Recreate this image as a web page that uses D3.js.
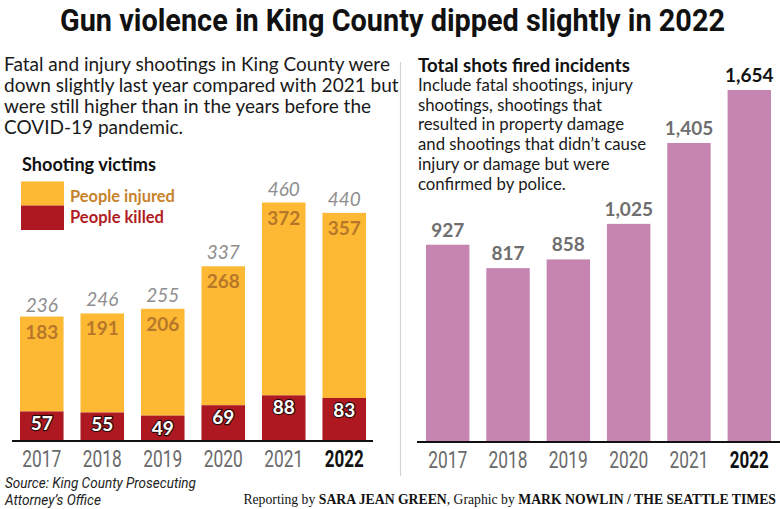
<!DOCTYPE html>
<html>
<head>
<meta charset="utf-8">
<script src="https://cdn.jsdelivr.net/npm/d3@7"></script>
<style>
  html, body { margin: 0; padding: 0; background: #fff; }
  svg { display: block; }
  .cond { font-family: "Roboto", "DejaVu Sans", sans-serif; }
  .hum { font-family: "Lato", "Noto Sans", sans-serif; }
</style>
</head>
<body>
<svg id="chart" width="780" height="509"></svg>
<script>
// ---- data ----
const years = ["2017", "2018", "2019", "2020", "2021", "2022"];
const injured = [183, 191, 206, 268, 372, 357];
const killed = [57, 55, 49, 69, 88, 83];
const totalVictims = [236, 246, 255, 337, 460, 440];
const shotsFired = [927, 817, 858, 1025, 1405, 1654];

const titleText = "Gun violence in King County dipped slightly in 2022";
const introLines = [
  "Fatal and injury shootings in King County were",
  "down slightly last year compared with 2021 but",
  "were still higher than in the years before the",
  "COVID-19 pandemic."
];
const rightTitle = "Total shots fired incidents";
const rightLines = [
  "Include fatal shootings, injury",
  "shootings, shootings that",
  "resulted in property damage",
  "and shootings that didn\u2019t cause",
  "injury or damage but were",
  "confirmed by police."
];

const C = {
  yellow: "#fdb933",
  red: "#ae1820",
  pink: "#c685b1",
  injuredText: "#b7772a",
  legendInjured: "#c7832a",
  legendKilled: "#b11c22",
  total: "#8e8e8e",
  year: "#6a6a6a",
  shotLabel: "#6e6e6e"
};

const svg = d3.select("#chart");

function fitWidth(sel, w) {
  const node = sel.node();
  const cur = node.getComputedTextLength();
  const fs = parseFloat(sel.attr("font-size"));
  if (cur > 0) sel.attr("font-size", (fs * w / cur).toFixed(2));
  return sel;
}
function squeeze(sel, w) {
  return sel.attr("textLength", w).attr("lengthAdjust", "spacingAndGlyphs");
}
// horizontally condense a text via transform, anchored at (x,y)
function condense(sel, x, y, w) {
  const cur = sel.node().getComputedTextLength();
  const k = cur > 0 ? w / cur : 1;
  sel.attr("x", 0).attr("y", 0)
     .attr("transform", `translate(${x},${y}) scale(${k.toFixed(4)},1)`);
  return sel;
}

// title
squeeze(svg.append("text")
  .attr("class", "cond")
  .attr("x", 60).attr("y", 31)
  .attr("font-size", 31)
  .attr("font-weight", "bold")
  .attr("fill", "#111")
  .text(titleText), 665);

// intro paragraph
let ifs = null;
introLines.forEach((t, i) => {
  const s = svg.append("text")
    .attr("class", "hum")
    .attr("x", 4).attr("y", 71 + i * 21)
    .attr("font-size", 19)
    .attr("fill", "#1a1a1a")
    .text(t);
  if (i === 0) { fitWidth(s, 386); ifs = s.attr("font-size"); }
  else s.attr("font-size", ifs);
});

// divider
svg.append("line")
  .attr("x1", 400.5).attr("x2", 400.5)
  .attr("y1", 62).attr("y2", 476)
  .attr("stroke", "#d4d4d4").attr("stroke-width", 1.2);

// ---------- left chart ----------
const xL = d3.scaleBand().domain(years).range([20, 366]).paddingInner(0.28).paddingOuter(0);
const yL = d3.scaleLinear().domain([0, 460]).range([441, 202.5]);

const gL = svg.append("g");
gL.selectAll("rect.inj").data(years).join("rect")
  .attr("x", d => xL(d)).attr("width", xL.bandwidth())
  .attr("y", (d, i) => yL(killed[i] + injured[i]))
  .attr("height", (d, i) => yL(killed[i]) - yL(killed[i] + injured[i]))
  .attr("fill", C.yellow);
gL.selectAll("rect.kil").data(years).join("rect")
  .attr("x", d => xL(d)).attr("width", xL.bandwidth())
  .attr("y", (d, i) => yL(killed[i]))
  .attr("height", (d, i) => yL(0) - yL(killed[i]))
  .attr("fill", C.red);

gL.selectAll("text.tot").data(years).join("text")
  .attr("class", "hum")
  .attr("x", d => xL(d) + xL.bandwidth() / 2)
  .attr("y", (d, i) => yL(totalVictims[i]) - 7)
  .attr("text-anchor", "middle")
  .attr("font-size", 19).attr("font-style", "italic")
  .attr("fill", C.total)
  .text((d, i) => totalVictims[i]);
gL.selectAll("text.inj").data(years).join("text")
  .attr("class", "hum")
  .attr("x", d => xL(d) + xL.bandwidth() / 2)
  .attr("y", (d, i) => yL(killed[i] + injured[i]) + 22)
  .attr("text-anchor", "middle")
  .attr("font-size", 19).attr("font-weight", "bold")
  .attr("fill", C.injuredText)
  .text((d, i) => injured[i]);
gL.selectAll("text.kil").data(years).join("text")
  .attr("class", "hum")
  .attr("x", d => xL(d) + xL.bandwidth() / 2)
  .attr("y", (d, i) => yL(killed[i]) + 19)
  .attr("text-anchor", "middle")
  .attr("font-size", 19).attr("font-weight", "bold")
  .attr("fill", "#fff")
  .attr("stroke", "#2a0a0a").attr("stroke-width", 2.4)
  .attr("paint-order", "stroke")
  .attr("stroke-linejoin", "round")
  .text((d, i) => killed[i]);

function styleYears(ax, scale) {
  ax.select(".domain").remove();
  ax.selectAll(".tick text")
    .attr("class", "cond")
    .attr("dy", 0)
    .attr("font-size", 23)
    .attr("fill", d => d === "2022" ? "#111" : C.year)
    .attr("font-weight", d => d === "2022" ? "bold" : "normal")
    .each(function () { condense(d3.select(this), 0, 26, 39); });
}

const axL = gL.append("g").attr("transform", "translate(0,441)")
  .call(d3.axisBottom(xL).tickSize(0).tickPadding(0));
styleYears(axL);
gL.append("line").attr("x1", 12).attr("x2", 373).attr("y1", 441).attr("y2", 441)
  .attr("stroke", "#111").attr("stroke-width", 2);

// legend
fitWidth(svg.append("text").attr("class", "hum")
  .attr("x", 22).attr("y", 171)
  .attr("font-size", 18).attr("font-weight", "bold").attr("fill", "#111")
  .text("Shooting victims"), 134);
svg.append("rect").attr("x", 21).attr("y", 181.5).attr("width", 43).attr("height", 24).attr("fill", C.yellow);
svg.append("rect").attr("x", 21).attr("y", 205.5).attr("width", 43).attr("height", 24.5).attr("fill", C.red);
fitWidth(svg.append("text").attr("class", "hum")
  .attr("x", 70).attr("y", 201.5)
  .attr("font-size", 17).attr("font-weight", "bold").attr("fill", C.legendInjured)
  .text("People injured"), 105);
fitWidth(svg.append("text").attr("class", "hum")
  .attr("x", 70).attr("y", 222.5)
  .attr("font-size", 17).attr("font-weight", "bold").attr("fill", C.legendKilled)
  .text("People killed"), 94);

// ---------- right chart ----------
const xR = d3.scaleBand().domain(years).range([426, 771]).paddingInner(0.28).paddingOuter(0);
const yR = d3.scaleLinear().domain([0, 1654]).range([442, 90]);
const gR = svg.append("g");

gR.selectAll("rect").data(years).join("rect")
  .attr("x", d => xR(d)).attr("width", xR.bandwidth())
  .attr("y", (d, i) => yR(shotsFired[i]))
  .attr("height", (d, i) => yR(0) - yR(shotsFired[i]))
  .attr("fill", C.pink);

gR.selectAll("text.val").data(years).join("text")
  .attr("class", "hum")
  .attr("x", d => xR(d) + xR.bandwidth() / 2)
  .attr("y", (d, i) => yR(shotsFired[i]) - 8)
  .attr("text-anchor", "middle")
  .attr("font-size", 19).attr("font-weight", "bold")
  .attr("fill", d => d === "2022" ? "#111" : C.shotLabel)
  .text((d, i) => d3.format(",")(shotsFired[i]));

const axR = gR.append("g").attr("transform", "translate(0,442)")
  .call(d3.axisBottom(xR).tickSize(0).tickPadding(0));
styleYears(axR);
gR.append("line").attr("x1", 417).attr("x2", 780).attr("y1", 442).attr("y2", 442)
  .attr("stroke", "#111").attr("stroke-width", 2);

fitWidth(svg.append("text").attr("class", "hum")
  .attr("x", 418).attr("y", 72)
  .attr("font-size", 18).attr("font-weight", "bold").attr("fill", "#111")
  .text(rightTitle), 212);
let rfs = null;
rightLines.forEach((t, i) => {
  const s = svg.append("text").attr("class", "hum")
    .attr("x", 418).attr("y", 91 + i * 19.7)
    .attr("font-size", 16).attr("fill", "#1a1a1a").text(t);
  if (i === 0) { fitWidth(s, 215); rfs = s.attr("font-size"); }
  else s.attr("font-size", rfs);
});

// footer
const src = ["Source: King County Prosecuting", "Attorney\u2019s Office"];
const srcW = [191, 96];
src.forEach((t, i) => {
  squeeze(svg.append("text").attr("class", "cond")
    .attr("x", 5).attr("y", 488 + i * 17)
    .attr("font-size", 15).attr("font-style", "italic").attr("fill", "#222").text(t), srcW[i]);
});

const credit = svg.append("text")
  .attr("x", 776).attr("y", 504)
  .attr("text-anchor", "end")
  .attr("font-family", "Liberation Serif, serif")
  .attr("font-size", 13).attr("fill", "#111");
credit.append("tspan").text("Reporting by ");
credit.append("tspan").attr("font-weight", "bold").text("SARA JEAN GREEN");
credit.append("tspan").text(", Graphic by ");
credit.append("tspan").attr("font-weight", "bold").text("MARK NOWLIN / THE SEATTLE TIMES");
fitWidth(credit, 533);
</script>
</body>
</html>
